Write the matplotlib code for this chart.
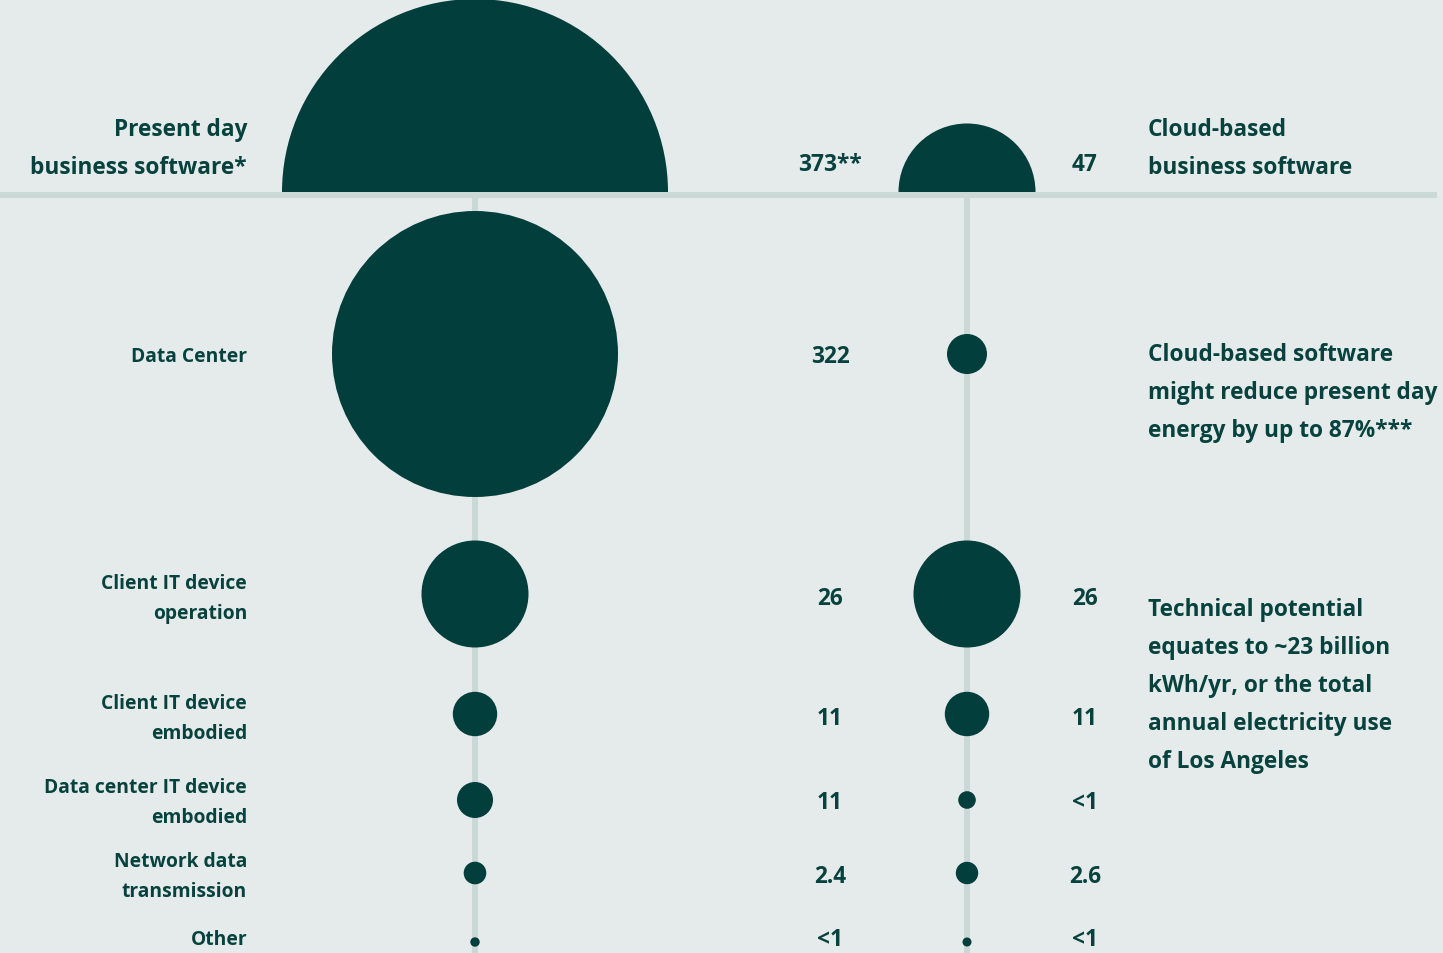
import matplotlib.pyplot as plt
from matplotlib.patches import Circle, Wedge, Rectangle

# Energy use per category (present day vs cloud-based business software)
categories = ["Data Center", "Client IT device\noperation", "Client IT device\nembodied",
              "Data center IT device\nembodied", "Network data\ntransmission", "Other"]
present_labels = ["322", "26", "11", "11", "2.4", "<1"]
cloud_labels = ["", "26", "11", "<1", "2.6", "<1"]
present_total = 373
cloud_total = 47
present_total_label = "373**"
cloud_total_label = "47"

# bubble radii in pixels
present_radius = [143, 53.5, 22.2, 18, 11.3, 4.7]
cloud_radius = [20, 53.5, 22.2, 8.8, 11.2, 4.5]

BG = "#E5EBEA"
DARK = "#023E3B"
TEXT = "#07423E"
RULE = "#CAD8D6"

plt.rcParams['font.family'] = ['Open Sans', 'DejaVu Sans']

W, H = 1443, 954
fig = plt.figure(figsize=(W / 100, H / 100), dpi=100, facecolor=BG)
ax = fig.add_axes([0, 0, 1, 1])
ax.set_xlim(0, W)
ax.set_ylim(H, 0)
ax.set_facecolor(BG)
ax.axis('off')

x_left, x_right = 475, 967
x_num_left, x_num_right = 830, 1085
x_label, x_note = 247, 1148
base_y = 192
row_y = [355, 595, 715, 801, 874, 943]
text_y = [355, 597, 717, 801, 875, 938]

big_fs = 16.3
small_fs = 13.9
dy = 2  # small nudge so text centres sit on the bubble centres


def lines(x, y, text, fs, step, ha):
    for i, line in enumerate(text.split("\n")):
        ax.text(x, y + i * step + dy, line, fontsize=fs, fontweight='bold', color=TEXT,
                ha=ha, va='center')


# vertical guides and baseline
for xc in (x_left, x_right):
    ax.add_patch(Rectangle((xc - 3, base_y + 4), 6, H, color=RULE, lw=0, zorder=1))
ax.add_patch(Rectangle((0, base_y + 1), 1437, 6, color=RULE, lw=0, zorder=1))

# totals as half-circles, area proportional to value
r_max = 193
for xc, total in ((x_left, present_total), (x_right, cloud_total)):
    r = r_max * (total / present_total) ** 0.5
    ax.add_patch(Wedge((xc, base_y + 1), r, 180, 360, color=DARK, lw=0, zorder=2))

# category bubbles
for y, rl, rr in zip(row_y, present_radius, cloud_radius):
    ax.add_patch(Circle((x_left, y), rl, color=DARK, lw=0, zorder=2))
    ax.add_patch(Circle((x_right, y), rr, color=DARK, lw=0, zorder=2))

# header texts
lines(x_label, 128, "Present day\nbusiness software*", big_fs, 38, 'right')
lines(x_note, 128, "Cloud-based\nbusiness software", big_fs, 38, 'left')
lines(x_num_left, 163, present_total_label, big_fs, 0, 'center')
lines(x_num_right, 163, cloud_total_label, big_fs, 0, 'center')

# category labels and values
for y, cat, pl, cl in zip(text_y, categories, present_labels, cloud_labels):
    n = cat.count("\n") + 1
    lines(x_label, y - (n - 1) * 29.5 / 2, cat, small_fs, 29.5, 'right')
    lines(x_num_left, y, pl, big_fs, 0, 'center')
    if cl:
        lines(x_num_right, y, cl, big_fs, 0, 'center')

# side notes
lines(x_note, 353, "Cloud-based software\nmight reduce present day\nenergy by up to 87%***",
      big_fs, 38, 'left')
lines(x_note, 608, "Technical potential\nequates to ~23 billion\nkWh/yr, or the total\n"
      "annual electricity use\nof Los Angeles", big_fs, 38, 'left')

fig.savefig("out.png", dpi=100, facecolor=BG)
